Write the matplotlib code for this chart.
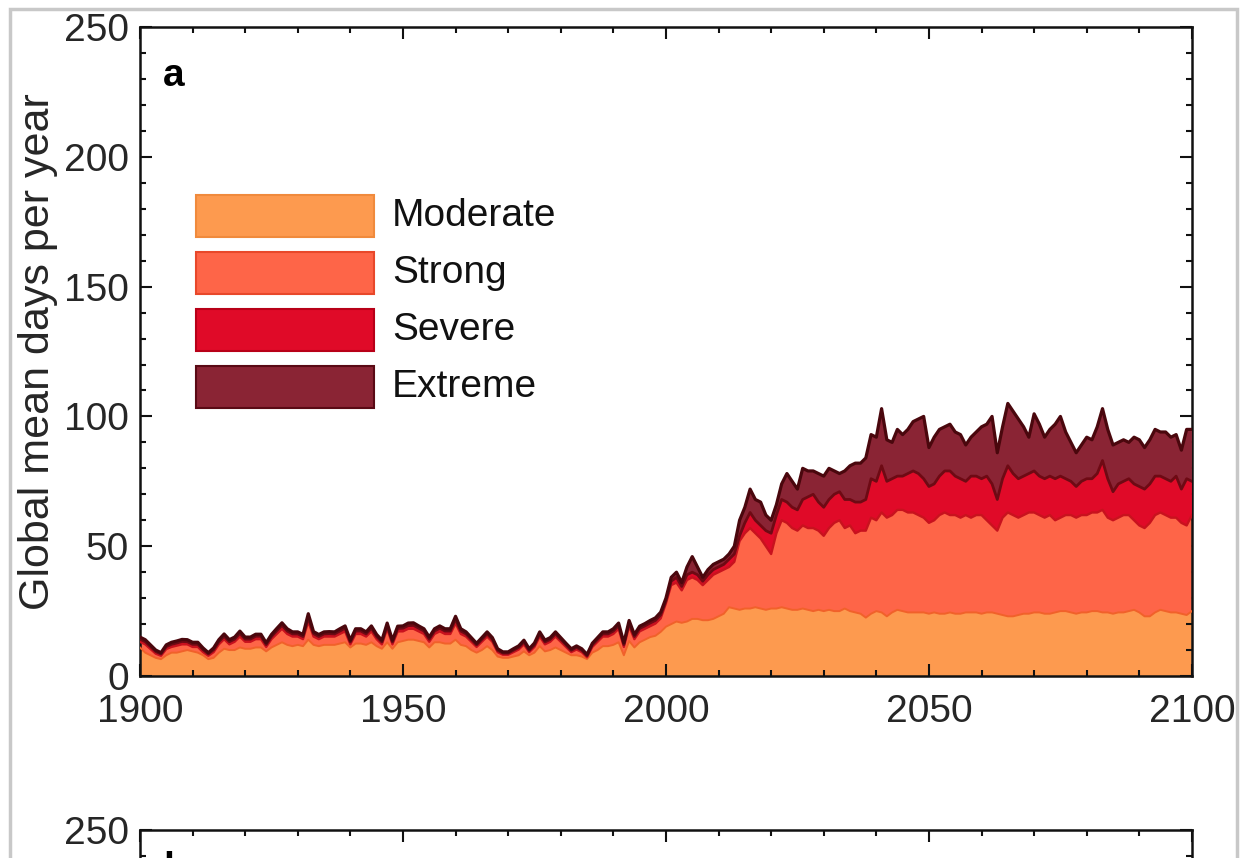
#!/usr/bin/env python
"""Stacked area of global mean heatwave days per year by category (panel a)."""
import numpy as np
import matplotlib
matplotlib.use("Agg")
import matplotlib.pyplot as plt
from matplotlib.patches import Rectangle
from matplotlib.ticker import MultipleLocator

plt.rcParams["font.family"] = ["Liberation Sans", "DejaVu Sans"]

years = np.arange(1900, 2101)
categories = ["Moderate", "Strong", "Severe", "Extreme"]

# days per year in each category, 1900..2100
moderate = [
    11, 9, 8, 7, 6.5, 8, 9, 9, 9.5, 10,
    9.5, 9, 8, 6.5, 7, 9, 10.5, 10, 10, 11,
    10.5, 10.5, 11, 11, 9.5, 11, 12, 13, 12, 11.5,
    12, 11.5, 14, 12, 11.5, 12, 12, 12, 12.5, 13,
    11, 12.5, 12.5, 12, 13, 11.5, 10.5, 13, 10.5, 13,
    13.5, 14, 14, 13.5, 13, 11, 13, 13, 12.5, 12.5,
    14, 12, 11.5, 10, 9, 10, 11.5, 10, 7.5, 7,
    7, 7.5, 8, 9.5, 8, 9, 11.5, 9.5, 10, 11,
    10, 9, 8, 8, 7.5, 6.5, 9, 10, 11.5, 11.5,
    12, 13, 8, 13.5, 11, 13, 14, 15, 15.5, 17,
    19, 20, 21, 20.5, 21, 22, 22, 21.5, 21.5, 22,
    23, 24, 26.5, 26, 25.5, 26, 26, 26.5, 26, 25.5,
    26, 26, 26.5, 26, 25.5, 25.5, 26, 25.5, 25, 25.5,
    25, 25.5, 25, 25, 26, 25, 24.5, 24, 22.5, 24,
    25, 24.5, 23, 24.5, 25.5, 25, 24.5, 24.5, 24.5, 24.5,
    24, 24.5, 24, 24, 24.5, 24, 24, 24.5, 24.5, 24.5,
    24, 24.5, 24.5, 24, 23.5, 23, 23, 23.5, 24, 24,
    24.5, 24.5, 24, 24, 24.5, 25, 25, 24.5, 24, 24.5,
    24.5, 25, 25, 24.5, 24.5, 24, 24.5, 24.5, 25, 25.5,
    24.5, 23, 23, 24.5, 25.5, 25, 24.5, 24.5, 24, 23.5,
    25,
]
strong = [
    2.2, 3.2, 2.4, 1.6, 1.3, 2.4, 2.2, 2.7, 2.7, 2.2,
    1.7, 2.2, 1.2, 1.3, 2.2, 3.2, 3.7, 2.2, 3.2, 4.2,
    2.7, 2.7, 3.2, 3.2, 1.7, 3.2, 4.2, 5.2, 4.2, 3.7,
    3.2, 2.7, 7.0, 3.2, 2.7, 3.2, 3.2, 3.2, 3.7, 4.2,
    1.2, 3.7, 3.7, 3.2, 4.2, 2.7, 1.7, 5.2, 1.7, 4.2,
    3.7, 4.2, 4.2, 3.7, 3.2, 2.2, 3.2, 4.2, 3.7, 3.7,
    6.3, 4.2, 3.7, 3.2, 2.2, 3.2, 3.7, 3.2, 1.7, 1.2,
    1.2, 1.7, 2.2, 2.7, 1.2, 2.2, 3.7, 2.7, 3.2, 4.2,
    3.2, 2.2, 1.2, 2.2, 1.7, 0.7, 2.2, 3.2, 3.7, 3.7,
    4.2, 5.2, 3.2, 5.7, 3.2, 4.2, 4.2, 4.2, 4.7, 5.2,
    9, 15, 15, 12.5, 16, 16, 15, 13.5, 15.5, 17,
    17, 17, 15.5, 18, 26.5, 29, 31, 28.5, 27, 24.5,
    21, 29, 33.5, 33, 31.5, 30.5, 32, 31.5, 32, 30.5,
    29, 31.5, 34, 35, 31, 33, 30.5, 32, 33.5, 37,
    35, 38.5, 38, 37.5, 38.5, 39, 38.5, 38.5, 37.5, 36.5,
    35, 35.5, 38, 39, 37.5, 38, 37, 37.5, 36.5, 37.5,
    38, 35.5, 33.5, 32, 37.5, 40, 39, 37.5, 38, 39,
    38.5, 37.5, 37, 38, 35.5, 36, 37, 37.5, 37, 37.5,
    37.5, 38, 38, 39.5, 36.5, 36, 36.5, 37.5, 37, 34.5,
    33.5, 34, 36, 37.5, 37.5, 37, 36.5, 36.5, 35, 34.5,
    37,
]
severe = [
    1.0, 1.0, 0.9, 0.8, 0.7, 0.9, 1.0, 1.0, 1.1, 1.0,
    1.0, 1.0, 0.9, 0.7, 0.9, 1.0, 1.1, 1.0, 1.0, 1.2,
    1.0, 1.0, 1.1, 1.1, 0.9, 1.0, 1.2, 1.3, 1.1, 1.0,
    1.0, 1.0, 1.5, 1.1, 1.0, 1.0, 1.1, 1.0, 1.1, 1.2,
    0.9, 1.1, 1.1, 1.0, 1.2, 1.0, 0.9, 1.2, 0.9, 1.1,
    1.2, 1.2, 1.3, 1.2, 1.1, 1.0, 1.1, 1.2, 1.1, 1.1,
    1.5, 1.1, 1.0, 0.9, 0.8, 0.9, 1.0, 0.9, 0.7, 0.6,
    0.6, 0.7, 0.8, 0.9, 0.7, 0.8, 1.0, 0.9, 0.9, 1.0,
    0.9, 0.8, 0.7, 0.8, 0.7, 0.6, 0.8, 0.9, 1.0, 1.0,
    1.1, 1.2, 0.9, 1.2, 1.0, 1.1, 1.1, 1.2, 1.2, 1.3,
    1, 1.5, 2, 1.5, 2, 2, 2, 1.5, 2, 2,
    2, 2, 3, 3, 2, 4, 6, 5, 5, 6,
    8, 7, 8, 8, 8, 8, 10, 12, 13, 11,
    11, 11, 11, 11, 11, 10, 12, 11, 12, 15,
    15, 18, 14, 14, 13, 13, 15, 16, 16, 15,
    14, 14, 15, 16, 17, 15, 15, 13, 16, 15,
    14, 17, 16, 12, 15, 18, 16, 15, 15, 15,
    16, 15, 15, 15, 16, 16, 14, 13, 12, 13,
    14, 13, 15, 19, 15, 11, 13, 13, 14, 14,
    15, 15, 15, 15, 14, 14, 14, 16, 13, 18,
    13,
]
extreme = [
    0.8, 0.8, 0.7, 0.6, 0.5, 0.7, 0.8, 0.8, 0.8, 0.8,
    0.8, 0.8, 0.7, 0.5, 0.7, 0.8, 0.9, 0.8, 0.8, 0.9,
    0.8, 0.8, 0.8, 0.8, 0.7, 0.8, 0.9, 1.0, 0.9, 0.8,
    0.8, 0.8, 1.5, 0.8, 0.8, 0.8, 0.8, 0.8, 0.9, 0.9,
    0.7, 0.9, 0.9, 0.8, 0.9, 0.8, 0.7, 1.0, 0.7, 0.9,
    0.9, 1.0, 1.0, 0.9, 0.9, 0.8, 0.9, 0.9, 0.9, 0.9,
    1.2, 0.9, 0.8, 0.7, 0.6, 0.7, 0.8, 0.7, 0.6, 0.5,
    0.5, 0.6, 0.6, 0.7, 0.6, 0.7, 0.8, 0.7, 0.7, 0.8,
    0.7, 0.6, 0.6, 0.6, 0.6, 0.5, 0.6, 0.7, 0.8, 0.8,
    0.9, 1.0, 0.7, 1.0, 0.8, 0.9, 0.9, 1.0, 1.0, 1.1,
    1, 1.5, 2, 1.5, 3, 6, 3, 1.5, 2, 2,
    2, 2, 2, 3, 6, 6, 9, 8, 9, 6,
    5, 4, 6, 11, 10, 8, 12, 10, 9, 11,
    12, 12, 9, 7, 11, 13, 15, 15, 16, 17,
    17, 22, 16, 14, 18, 16, 17, 19, 21, 24,
    15, 18, 18, 17, 18, 17, 17, 14, 15, 17,
    20, 20, 26, 18, 20, 24, 24, 23, 19, 14,
    22, 20, 16, 18, 21, 23, 18, 15, 13, 14,
    16, 15, 18, 20, 19, 18, 16, 16, 14, 18,
    18, 16, 17, 18, 17, 18, 17, 16, 15, 19,
    20,
]

fills = ["#fd9a4f", "#fe6548", "#e00a28", "#8a2434"]
lines = ["#f1612a", "#c8121e", "#6e0a14", "#4a070d"]
edges = ["#f08a3c", "#e8482a", "#b80018", "#5a0a15"]


def style_axes(ax):
    ax.set_xlim(1900, 2100)
    ax.set_ylim(0, 250)
    ax.xaxis.set_major_locator(MultipleLocator(50))
    ax.xaxis.set_minor_locator(MultipleLocator(10))
    ax.yaxis.set_major_locator(MultipleLocator(50))
    ax.yaxis.set_minor_locator(MultipleLocator(10))
    ax.tick_params(which="both", direction="in", top=True, right=True,
                   width=1.5, colors="#111111", labelcolor="#262626",
                   labelsize=28)
    ax.tick_params(which="major", length=8.5)
    ax.tick_params(which="minor", length=4.3)
    ax.tick_params(axis="x", pad=13)
    ax.tick_params(axis="y", pad=8)
    for s in ax.spines.values():
        s.set_linewidth(1.8)
        s.set_color("#111111")


fig = plt.figure(figsize=(12.43, 8.58), dpi=100)
ax = fig.add_axes([0.1126, 0.2121, 0.8463, 0.7564])
style_axes(ax)

stack = np.vstack([moderate, strong, severe, extreme])
tops = np.cumsum(stack, axis=0)
lower = np.zeros(len(years))
for i in range(len(categories)):
    ax.fill_between(years, lower, tops[i], facecolor=fills[i],
                    edgecolor="none", lw=0, zorder=1 + i)
    lower = tops[i]
for i in range(len(categories)):
    ax.plot(years, tops[i], color=lines[i], lw=1.4 + 0.3 * i,
            solid_joinstyle="round", zorder=6 + i)

ax.set_ylabel("Global mean days per year", fontsize=31, color="#262626",
              labelpad=4)
ax.text(0.022, 0.925, "a", transform=ax.transAxes, fontsize=28,
        fontweight="bold", va="center", ha="left")

# legend drawn as boxes + labels
for i, name in enumerate(categories):
    y0 = 0.6764 - 0.0877 * i
    ax.add_patch(Rectangle((0.0532, y0), 0.1692, 0.0647, transform=ax.transAxes,
                           facecolor=fills[i], edgecolor=edges[i], lw=1.5,
                           zorder=20))
    ax.text(0.2395, y0 + 0.032, name, transform=ax.transAxes, fontsize=28,
            va="center", ha="left", color="#111111", zorder=20)

# top of panel b, cut off by the page
ax2 = fig.add_axes([0.1126, 0.0326 - 0.7564, 0.8463, 0.7564])
style_axes(ax2)
ax2.set_yticks(range(0, 251, 50), ["", "", "", "", "", "250"])
ax2.tick_params(labelbottom=False)
ax2.text(0.022, 0.94, "b", transform=ax2.transAxes, fontsize=28,
         fontweight="bold", va="center", ha="left")

# grey page frame
fig.add_artist(Rectangle((10 / 1243, -0.1), 1227 / 1243, 1.1 - 9 / 858,
                         transform=fig.transFigure, fill=False,
                         edgecolor="#c8c8c8", lw=2.5))

fig.savefig("out.png", dpi=100)
